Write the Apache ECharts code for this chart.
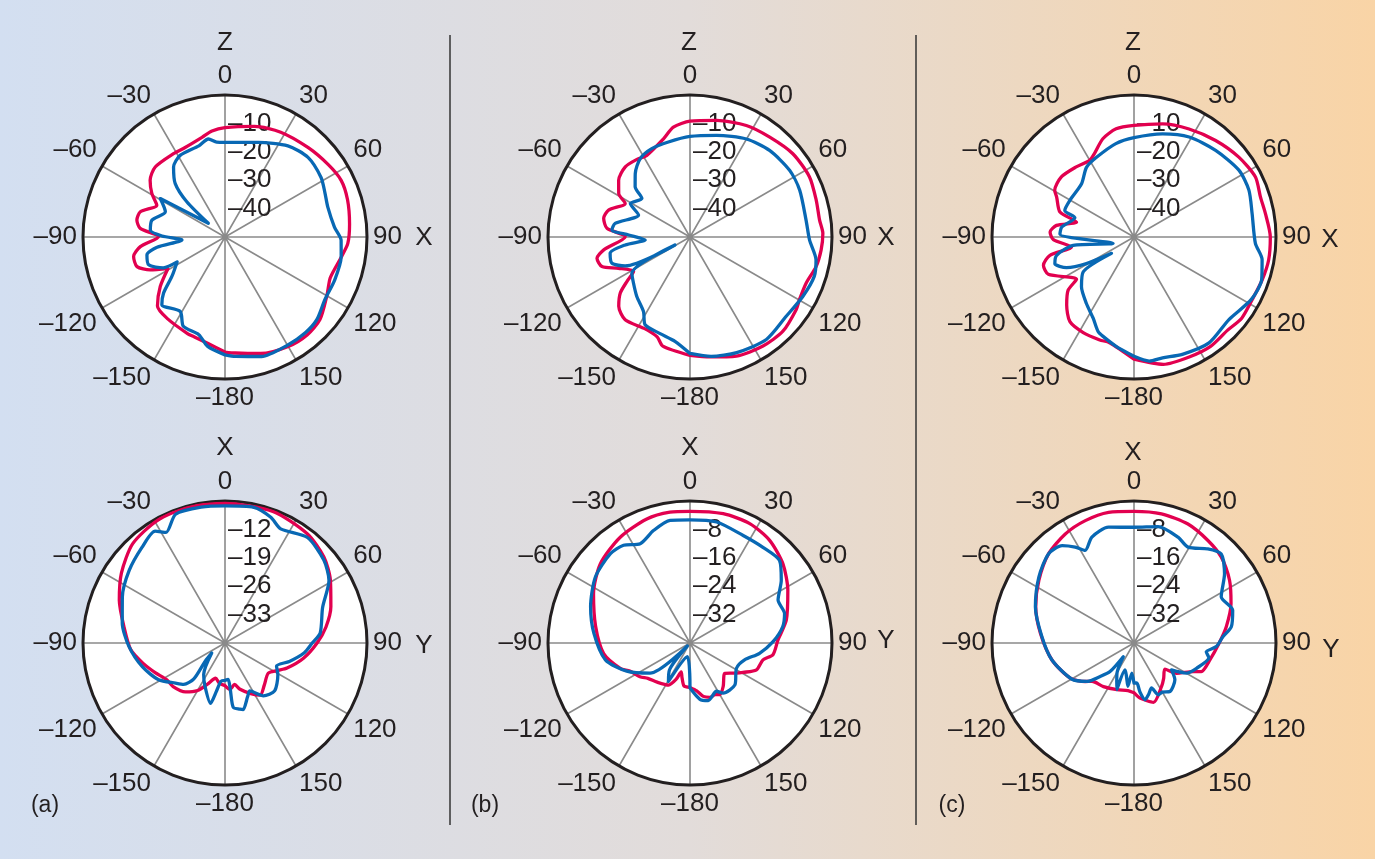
<!DOCTYPE html>
<html><head><meta charset="utf-8">
<script src="https://cdn.jsdelivr.net/npm/echarts@6/dist/echarts.min.js"></script>
<style>
html,body{margin:0;padding:0;width:1375px;height:859px;overflow:hidden;
background:linear-gradient(to right,#d3dff1 0%,#e2dcda 50%,#f9d4a6 100%);}
#c{width:1375px;height:859px;}
</style></head><body><div id="c"></div>
<script>
// ---- angle tick labels (degrees) ----
const angleTicks = [0,30,60,90,120,150,180,-150,-120,-90,-60,-30];

// ---- (a) top: ZX plane ----
const aTopRedAng = [-180,-171,-163,-159,-145,-135.6,-127.4,-119,-113.7,-108.6,-102,-96.5,-89.7,-84.2,-79.1,-73.4,-65,-59.2,-52.8,-44.9,-31.7,-24,-13,-7,0,15,28,43,55,64,73,84,93,100,108,112,120,131,140,150,163,175,180];
const aTopRedVal = [-9.5,-12,-13.2,-13.5,-14.8,-16,-21.3,-27,-21.2,-17.3,-17.1,-20,-26.6,-20,-18.4,-18.9,-23.5,-20,-16.9,-15.2,-15.5,-15.5,-14,-12.4,-11.5,-9.7,-8.2,-7,-5.6,-4.5,-4.9,-5.9,-6.7,-8.5,-10,-10.2,-8.6,-5.7,-5,-5.5,-7.1,-9,-9.5];
const aTopBlueAng = [-180,-171,-165,-155,-149,-137,-132.4,-126.6,-117.5,-116.5,-110,-102.9,-98.6,-94,-89.1,-84.7,-77,-67.1,-59.3,-50.6,-47.3,-43,-36.3,-28.8,-16,-9.6,-5,0,19.3,34.6,46.2,58.2,66,73.8,84.8,91.6,99.7,111.5,122,132,140,150,163,175,180];
const aTopBlueVal = [-8.5,-11,-14.4,-15.3,-19.4,-17.4,-20.7,-26.7,-31,-25.7,-21.4,-21.8,-25.8,-34.8,-27.8,-23.6,-23.6,-27.2,-23.5,-42.4,-31.7,-24.3,-19.4,-17.2,-16.6,-15,-16.5,-16.7,-14.7,-11,-9.5,-10.2,-11.5,-12.3,-11.3,-9.1,-8.5,-8.5,-8.5,-6.5,-6,-6,-6,-7.8,-8.5];

// ---- (b) top ----
const bTopRedAng = [-180,-166,-161.8,-154,-141.9,-134.2,-128.8,-125.2,-121.5,-113.6,-108.6,-102.9,-98.5,-89.7,-84,-77.8,-71.7,-62.6,-58.6,-51.5,-42.7,-34.4,-27.9,-15.1,-8.6,0,12.8,26.8,38.6,51,63.3,73.7,82.5,88.4,95.6,103.2,111.7,119.8,124.4,135.4,146.2,158.7,170.6,180];
const bTopRedVal = [-8.3,-10.4,-13,-14,-13,-15,-18.5,-22.8,-26.7,-22.5,-17.3,-16.4,-19.3,-27.2,-20.6,-18.9,-19.8,-24.3,-20.6,-17.9,-16.4,-16.9,-17.5,-14.2,-10.9,-9.2,-7.9,-6,-5,-3.4,-2.9,-3.7,-4,-3.2,-3.6,-4.4,-6,-5.6,-4.7,-3.4,-3.8,-5,-7.2,-8.3];
const bTopBlueAng = [-180,-171.8,-162.8,-152.9,-148,-138.2,-129.3,-121.9,-118,-114,-108.6,-101.5,-97,-93.8,-88.1,-84.9,-79.7,-66.9,-60.7,-51.3,-47.5,-40.8,-32.4,-23.4,-12.8,0,14.7,29.9,42.6,56.2,66.9,81.7,91.4,100.3,107.6,117.8,129.5,143.3,158,170,180];
const bTopBlueVal = [-9,-12.9,-14.4,-15.3,-19.1,-21.9,-24.3,-25.9,-44,-25,-21,-21.3,-27,-34.2,-28.4,-22.4,-23.2,-30.3,-25.9,-28.3,-23.8,-20.5,-17.3,-16.1,-15.7,-14.6,-13,-10.2,-8.6,-7.8,-8,-8.7,-7.9,-4.9,-4.1,-5.1,-6.1,-5,-6.1,-7.3,-9];

// ---- (c) top ----
const cTopRedAng = [-180,-167,-161.6,-152,-142.9,-135.3,-128.9,-126.3,-113.5,-107.3,-102.3,-99.1,-91.9,-86.6,-81.5,-75.4,-71.4,-62.8,-59.5,-50.4,-39.5,-30.1,-25.4,-17.6,-9.4,0,14.2,27,40.2,52.7,63.7,72.4,79.8,90,99.6,108.5,118,127,135,145,155,167,180];
const cTopRedVal = [-7,-11.8,-11.8,-11.9,-12.6,-16.3,-20.2,-24.9,-17.1,-16.6,-19.7,-27.7,-21.6,-20.4,-22.4,-29.1,-22.5,-19.4,-17.6,-16.8,-18,-18.8,-17.5,-13.7,-11.4,-10.7,-8.9,-7.3,-5.5,-3.6,-2.3,-3.3,-3,-2,-1.9,-2.4,-2.9,-2.5,-3.5,-3,-3.5,-4,-7];
const cTopBlueAng = [-180,-170.7,-162.5,-159.2,-153.3,-144.4,-133.5,-124.5,-126,-119.2,-114.4,-108.6,-103.3,-97.8,-107,-87.9,-82.2,-71.9,-69,-60.3,-44.6,-34.3,-25.2,-11,0,15.5,28.9,43.3,57.5,67.8,78.7,93,100,108.5,118,131,144.7,157.6,166.7,173,180];
const cTopBlueVal = [-8,-11,-13.4,-14.4,-18,-21.2,-24.5,-28.3,-40.2,-30.8,-23.9,-20.6,-22,-28.4,-42.3,-23.9,-24.3,-28.1,-23.9,-24,-23.7,-20.3,-19,-16.5,-15,-12.3,-9.8,-8.1,-6.2,-6.3,-7.6,-7.2,-4.2,-2.6,-3.2,-5.7,-4.3,-5.3,-6.3,-6,-8];

// ---- (a) bottom: XY plane ----
const aBotRedAng = [-180,-172,-165,-157,-150,-141,-130,-122,-113,-104,-94,-81,-68,-56,-43,-29,-15,0,20,37,49,59,71,81,90,101,112,118,125,137,146,153,162,167,174,180];
const aBotRedVal = [-29.5,-30,-31,-29,-26.5,-24.5,-23.3,-23,-21.3,-19.2,-16.7,-14.8,-11.9,-9.2,-6.6,-5.5,-5.3,-5.6,-5.5,-6.3,-7.7,-9.7,-12.4,-14.8,-17.3,-20.3,-23.5,-25.5,-27,-25.8,-24.5,-26,-28,-29.5,-28.5,-29.5];
const aBotBlueAng = [-180,-174,-170,-166.5,-155,-146,-127,-132.5,-139,-135,-129,-119,-106,-92,-79,-66,-53,-41,-32,-28,-21,-10,0,12,20,26,38,50,59,70,84,90,97,106,114,121,134,144,152.6,157,164.7,167.3,172.7,173.5,175,180];
const aBotBlueVal = [-30.8,-30.5,-28,-24.7,-28.3,-30.6,-35.9,-33.4,-28.3,-25.6,-24.3,-21.3,-18.8,-16.3,-14.2,-12.3,-10.4,-8.8,-7.5,-9.1,-6,-6,-6.2,-5.8,-7,-8.7,-7,-8.2,-10.1,-14.4,-16.4,-18.5,-20.3,-23.5,-26.1,-24.8,-23,-23.9,-26.7,-25.7,-23,-23.3,-24,-28.5,-31,-30.8];

// ---- (b) bottom ----
const bBotRedAng = [-180,-172,-167,-163,-159,-153,-140,-130,-124,-115,-110,-97,-80,-63,-48.5,-33.4,-19.2,-8.7,0,14.4,26.6,37.8,49.5,61.7,76.6,88,98,103,112,119,123,131,142.6,150,154,160,166,172,180];
const bBotRedVal = [-27.5,-27.8,-30,-31.5,-29,-26.7,-25.6,-24.5,-23,-21.3,-19.1,-15.5,-13,-9.5,-6.3,-4.3,-3,-2.7,-2.9,-2.4,-2.4,-3.4,-5.6,-8.7,-12.1,-15.2,-16.4,-18.9,-19.8,-22.9,-24.4,-27,-24.6,-23.2,-23.8,-23.7,-24.5,-26.4,-27.5];
const bBotBlueAng = [-180,-169,-150.7,-142.6,-138,-127,-114,-101.3,-84.3,-70,-55.1,-41.7,-34.2,-26.6,-18,-9.2,0,12.4,26.3,37.3,47.3,55.5,64,72.7,80.1,89.1,98.4,107.2,118.5,133,146.5,151.3,162.4,170,180];
const bBotBlueVal = [-27.3,-36.1,-27.6,-30.5,-38.9,-25.9,-20.5,-15.7,-12.8,-10.2,-7.5,-6.3,-6.7,-8.7,-6.7,-5,-5.3,-5.1,-6.2,-6.1,-5.7,-8.8,-12.4,-12.1,-13.5,-16.6,-20.2,-23.9,-25.1,-22.7,-23.1,-24.5,-23,-23.9,-27.3];

// ---- (c) bottom ----
const cBotRedAng = [-180,-172.6,-160,-145,-132.3,-128.3,-118.9,-101.7,-84.1,-69.8,-56.6,-43.7,-32.2,-21.7,-11,0,12,24.4,35.8,45.4,56.7,67.9,80,90,102.6,113,115.8,125.4,130.3,140,147.6,161.8,173.8,180];
const cBotRedVal = [-26,-26.5,-26,-25,-24,-22.5,-19.5,-16.4,-13.5,-10.5,-7.9,-5.2,-3.7,-2.9,-2.5,-2.9,-2.8,-3.2,-4.4,-5.5,-7.8,-10.5,-13.6,-16,-18.1,-19.4,-21.5,-25.3,-28.6,-27,-25.5,-22.4,-24.4,-26];
const cBotBlueAng = [-180,-176,-172,-167,-161.6,-159.8,-155.9,-150,-142,-140,-134.7,-129.2,-120,-101.7,-86.1,-69.8,-55.3,-43.7,-36.4,-31.5,-27.8,-21.7,-12.4,0,11.7,22.6,29.4,38.1,44.4,52.6,62.1,71.6,80.5,86,92.5,97,101.2,112,119.9,125.6,132,143.5,150,154.9,158.7,164,169,173,176,180];
const cBotBlueVal = [-28.7,-31.5,-27.7,-30.5,-32,-26,-28.1,-30.5,-35.1,-29.5,-26.6,-22.9,-19.7,-16.4,-14,-10.4,-7.4,-5.2,-5.9,-8.3,-10.5,-7.9,-6.6,-7.4,-6.5,-7.7,-9,-6.3,-4.9,-7.9,-12.2,-10.7,-12.2,-14.9,-16.8,-19.5,-18.5,-21,-23,-27,-24.5,-23,-24,-23.9,-26.4,-25,-23.7,-26,-28.7,-28.7];

// ---- radial axis scales [min, max, interval] ----
const topScale = [-50, 0, 10];
const botScaleA = [-40, -5, 7];
const botScaleBC = [-40, 0, 8];

const RED = '#e2004f', BLUE = '#0868b4', INK = '#231f20', GRID = '#8a8a8a';
const FONT = '"Liberation Sans", Arial, Helvetica, sans-serif';
const FS = 26;
const dash = v => (v < 0 ? '\u2013' + Math.abs(v) : String(v));

const plots = [
  {center:[225,237], scale:topScale, red:[aTopRedAng,aTopRedVal], blue:[aTopBlueAng,aTopBlueVal]},
  {center:[690,237], scale:topScale, red:[bTopRedAng,bTopRedVal], blue:[bTopBlueAng,bTopBlueVal]},
  {center:[1134,237], scale:topScale, red:[cTopRedAng,cTopRedVal], blue:[cTopBlueAng,cTopBlueVal]},
  {center:[225,643], scale:botScaleA, red:[aBotRedAng,aBotRedVal], blue:[aBotBlueAng,aBotBlueVal]},
  {center:[690,643], scale:botScaleBC, red:[bBotRedAng,bBotRedVal], blue:[bBotBlueAng,bBotBlueVal]},
  {center:[1134,643], scale:botScaleBC, red:[cBotRedAng,cBotRedVal], blue:[cBotBlueAng,cBotBlueVal]}
];

const polar = [], angleAxis = [], radiusAxis = [], series = [];
plots.forEach((p, i) => {
  polar.push({center: p.center, radius: 142});
  angleAxis.push({
    polarIndex: i, type: 'value', min: 0, max: 360, interval: 30,
    startAngle: 90, clockwise: true,
    axisLine: {lineStyle: {color: INK, width: 3}},
    axisTick: {show: false},
    axisLabel: {color: INK, fontSize: FS, fontFamily: FONT, margin: 6,
      formatter: v => (v === 360 ? '' : dash(v >= 180 ? v - 360 : v))},
    splitLine: {lineStyle: {color: GRID, width: 1.6}}
  });
  radiusAxis.push({
    polarIndex: i, type: 'value', min: p.scale[0], max: p.scale[1], interval: p.scale[2],
    axisLine: {show: false}, axisTick: {show: false},
    axisLabel: {showMinLabel: false, showMaxLabel: false, color: INK, fontSize: FS,
      fontFamily: FONT, margin: -3, align: 'left', formatter: dash},
    splitLine: {lineStyle: {color: GRID, width: 1.6}},
    splitArea: {show: true, areaStyle: {color: ['#ffffff']}}
  });
  [[p.red, RED], [p.blue, BLUE]].forEach(([d, col]) => {
    series.push({
      type: 'line', coordinateSystem: 'polar', polarIndex: i,
      data: d[0].map((a, k) => [d[1][k], a < 0 ? a + 360 : a]),
      smooth: 0.25, symbol: 'none', silent: true, animation: false,
      lineStyle: {color: col, width: 3.3, join: 'round', cap: 'round'}, z: 3
    });
  });
});

const txt = (t, x, y, size) => ({type: 'text', x, y, silent: true,
  style: {text: t, fill: INK, font: size + 'px ' + FONT, align: 'center', verticalAlign: 'middle',
          textAlign: 'center', textVerticalAlign: 'middle'}});

const graphic = [
  {type: 'line', silent: true, shape: {x1: 450, y1: 35, x2: 450, y2: 825}, style: {stroke: '#333', lineWidth: 1.5}},
  {type: 'line', silent: true, shape: {x1: 916, y1: 35, x2: 916, y2: 825}, style: {stroke: '#333', lineWidth: 1.5}},
  txt('Z', 225, 43, FS), txt('X', 424, 238, FS),
  txt('Z', 689, 43, FS), txt('X', 886, 238, FS),
  txt('Z', 1133, 43, FS), txt('X', 1330, 240, FS),
  txt('X', 225, 448, FS), txt('Y', 424, 646, FS),
  txt('X', 690, 448, FS), txt('Y', 886, 641, FS),
  txt('X', 1133, 453, FS), txt('Y', 1331, 650, FS),
  txt('(a)', 45, 806, 23), txt('(b)', 485, 806, 23), txt('(c)', 952, 806, 23)
];

const chart = echarts.init(document.getElementById('c'), null, {renderer: 'canvas'});
chart.setOption({
  backgroundColor: 'transparent', animation: false,
  polar, angleAxis, radiusAxis, series, graphic
});
</script>
</body></html>
